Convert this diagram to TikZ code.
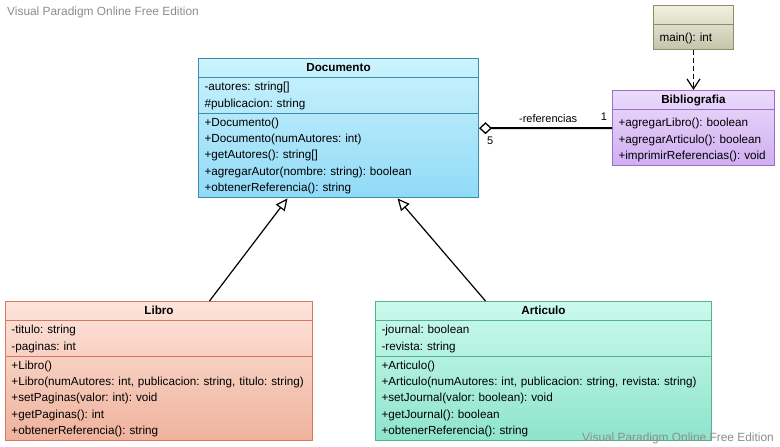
\documentclass[tikz,border=0pt]{standalone}
\usepackage{fontspec}
\setmainfont{Liberation Sans}
\usetikzlibrary{shapes.multipart,arrows.meta,positioning}

\definecolor{docTop}{HTML}{CBF3FD}
\definecolor{docBot}{HTML}{90DAF7}
\definecolor{docLine}{HTML}{3C8EAE}
\definecolor{bibTop}{HTML}{EBDBFB}
\definecolor{bibBot}{HTML}{D0AEF2}
\definecolor{bibLine}{HTML}{9A6FC6}
\definecolor{mainTop}{HTML}{F0F0E0}
\definecolor{mainBot}{HTML}{C4C4AC}
\definecolor{mainLine}{HTML}{8E8E5E}
\definecolor{libTop}{HTML}{FDE4DC}
\definecolor{libBot}{HTML}{EFB29C}
\definecolor{libLine}{HTML}{D9775E}
\definecolor{artTop}{HTML}{CBFAEC}
\definecolor{artBot}{HTML}{8EE4CB}
\definecolor{artLine}{HTML}{55B394}
\definecolor{wmGray}{HTML}{8C8C8C}

\tikzset{
  umlclass/.style={draw, rectangle split, rectangle split parts=3, anchor=north west,
    align=left, inner xsep=6pt, inner ysep=1pt, line width=1pt,
    font=\fontsize{11.7}{16.3}\selectfont\frenchspacing},
  generalize/.style={-{Triangle[open,length=12pt,width=11pt]}, line width=1.2pt},
  depend/.style={-{Straight Barb[length=10pt,width=13pt]}, line width=1.2pt, dash pattern=on 5pt off 3pt},
  lbl/.style={font=\fontsize{11}{13}\selectfont, inner sep=1pt},
  watermark/.style={inner sep=0pt, text=wmGray, font=\fontsize{11.9}{13}\selectfont},
}

\begin{document}
\begin{tikzpicture}[x=1pt,y=-1pt]
\useasboundingbox (0,0) rectangle (780,447);

\node (Doc) at (198,58)[umlclass,text width=268pt,top color=docTop,bottom color=docBot,draw=docLine]
  {\strut\hfill\textbf{Documento}\hfill\null
   \nodepart{two}\strut -autores: string[]\\ \#publicacion: string\strut
   \nodepart{three}\strut +Documento()\\ +Documento(numAutores: int)\\ +getAutores(): string[]\\ +agregarAutor(nombre: string): boolean\\ +obtenerReferencia(): string\strut};
\node (Bib) at (612,90)[umlclass,rectangle split parts=2,text width=150pt,top color=bibTop,bottom color=bibBot,draw=bibLine]
  {\strut\hfill\textbf{Bibliografia}\hfill\null
   \nodepart{two}\rule{0pt}{15.4pt}+agregarLibro(): boolean\\ +agregarArticulo(): boolean\\ +imprimirReferencias(): void\strut};
\node (Main) at (653,5)[umlclass,rectangle split parts=2,text width=68pt,top color=mainTop,bottom color=mainBot,draw=mainLine]
  {\strut
   \nodepart{two}\rule[-6.8pt]{0pt}{21.8pt}main(): int};
\node (Lib) at (5,301)[umlclass,text width=295pt,top color=libTop,bottom color=libBot,draw=libLine]
  {\strut\hfill\textbf{Libro}\hfill\null
   \nodepart{two}\strut -titulo: string\\ -paginas: int\strut
   \nodepart{three}\strut +Libro()\\ +Libro(numAutores: int, publicacion: string, titulo: string)\\ +setPaginas(valor: int): void\\ +getPaginas(): int\\ +obtenerReferencia(): string\strut};
\node (Art) at (375,301)[umlclass,text width=324pt,top color=artTop,bottom color=artBot,draw=artLine]
  {\strut\hfill\textbf{Articulo}\hfill\null
   \nodepart{two}\strut -journal: boolean\\ -revista: string\strut
   \nodepart{three}\strut +Articulo()\\ +Articulo(numAutores: int, publicacion: string, revista: string)\\ +setJournal(valor: boolean): void\\ +getJournal(): boolean\\ +obtenerReferencia(): string\strut};

\draw [generalize] ([xshift=50.5pt]Lib.north) -- ([xshift=-51pt]Doc.south);
\draw [generalize] ([xshift=-58pt]Art.north) -- ([xshift=59pt]Doc.south);
\draw [depend] (Main.south) -- (Bib.north);
\draw [{Diamond[open,length=13pt,width=12pt,line width=1.3pt]}-, line width=2pt] (Doc.east) -- (Bib.west)
  node[lbl,pos=0.52,above=3.5pt] {-referencias}
  node[lbl,pos=1,above left=6pt and 3pt] {1}
  node[lbl,pos=0,below right=7pt and 6pt] {5};

\node (wmTop) at (7,12)[watermark,anchor=west] {Visual Paradigm Online Free Edition};
\node (wmBot) at (774,438)[watermark,anchor=east] {Visual Paradigm Online Free Edition};
\end{tikzpicture}
\end{document}
